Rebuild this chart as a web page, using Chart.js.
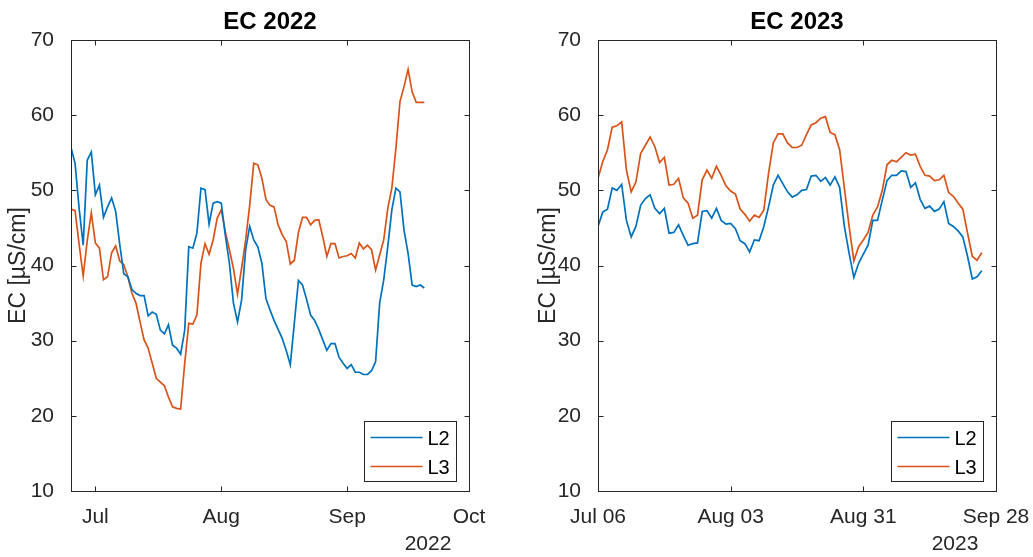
<!DOCTYPE html>
<html>
<head>
<meta charset="utf-8">
<script src="https://cdn.jsdelivr.net/npm/chart.js@4.4.0/dist/chart.umd.min.js"></script>
<style>
  html, body { margin: 0; padding: 0; background: #fff; }
  #wrap { position: relative; width: 1033px; height: 557px; overflow: hidden; }
  canvas { position: absolute; top: 0; }
  #c2022 { left: 0; }
  #c2023 { left: 520px; }
</style>
</head>
<body>
<div id="wrap">
  <canvas id="c2022" width="520" height="557"></canvas>
  <canvas id="c2023" width="513" height="557"></canvas>
</div>
<script>
// EC at two loggers, daily values

const seriesNames = ['L2', 'L3'];
const seriesColors = ['#0072BD', '#D95319'];

// 2022: x is day offset from Jul 1, 2022 (first value is Jun 25)
const start2022 = -6;
const l2_2022 = [
  55.7, 53.6, 47.6, 42.7, 54.0, 55.1, 49.4, 50.7, 46.4, 47.8,
  49.0, 47.2, 42.8, 38.9, 38.5, 36.8, 36.3, 36.0, 36.0, 33.3,
  33.8, 33.5, 31.4, 30.9, 32.1, 29.4, 29.0, 28.2, 31.4, 42.5,
  42.3, 44.3, 50.3, 50.1, 45.5, 48.3, 48.5, 48.3, 44.0, 40.3,
  35.0, 32.5, 35.4, 42.1, 45.2, 43.4, 42.5, 40.3, 35.6, 34.1,
  32.7, 31.5, 30.3, 28.7, 26.8, 32.4, 38.0, 37.4, 35.5, 33.4,
  32.7, 31.5, 30.1, 28.7, 29.6, 29.6, 27.8, 27.0, 26.3, 26.8,
  25.8, 25.8, 25.5, 25.5, 26.0, 27.2, 35.0, 38.1, 42.5, 47.4,
  50.3, 49.8, 44.7, 41.6, 37.4, 37.2, 37.4, 37.0
];
const l3_2022 = [
  47.5, 47.3, 42.8, 38.6, 43.3, 47.0, 43.0, 42.3, 38.1, 38.5,
  41.7, 42.6, 40.6, 40.1, 38.5, 36.3, 35.0, 32.5, 30.1, 29.0,
  27.0, 25.0, 24.5, 24.0, 22.5, 21.2, 21.0, 20.9, 27.0, 32.3,
  32.2, 33.4, 40.3, 42.9, 41.5, 43.4, 46.3, 47.4, 44.5, 42.1,
  39.6, 36.2, 39.6, 43.4, 48.0, 53.6, 53.4, 51.6, 48.8, 48.0,
  47.8, 45.4, 44.1, 43.2, 40.2, 40.7, 44.4, 46.4, 46.4, 45.4,
  46.0, 46.1, 43.8, 41.2, 42.9, 42.9, 41.0, 41.2, 41.3, 41.6,
  41.0, 43.0, 42.2, 42.7, 42.1, 39.4, 41.4, 43.4, 47.6, 50.3,
  55.6, 61.8, 63.8, 66.1, 63.1, 61.7, 61.7, 61.7
];
const xRange2022 = [-6, 92];
const xTicks2022 = [0, 31, 62, 92];
const xLabels2022 = ['Jul', 'Aug', 'Sep', 'Oct'];

// 2023: x is day offset from Jul 06, 2023
const start2023 = 0;
const l2_2023 = [
  45.2, 47.1, 47.5, 50.3, 50.0, 50.8, 46.0, 43.8, 45.2, 48.0,
  48.9, 49.4, 47.6, 46.9, 47.6, 44.3, 44.4, 45.4, 44.0, 42.7,
  42.9, 43.0, 47.2, 47.3, 46.3, 47.6, 46.0, 45.5, 45.6, 44.9,
  43.3, 42.9, 41.8, 43.4, 43.3, 45.2, 47.8, 50.7, 52.0, 50.9,
  49.8, 49.1, 49.4, 50.0, 50.1, 51.9, 52.0, 51.2, 51.7, 50.7,
  51.8, 50.4, 45.2, 41.6, 38.4, 40.3, 41.5, 42.7, 46.0, 46.0,
  48.7, 51.3, 52.0, 52.0, 52.6, 52.5, 50.4, 51.0, 48.8, 47.6,
  47.9, 47.2, 47.5, 48.5, 45.6, 45.2, 44.6, 43.8, 41.2, 38.2,
  38.5, 39.3
];
const l3_2023 = [
  51.6, 53.8, 55.4, 58.4, 58.6, 59.1, 52.7, 49.8, 51.1, 54.9,
  56.0, 57.1, 55.8, 53.7, 54.4, 50.7, 50.8, 51.6, 49.0, 48.3,
  46.3, 46.7, 51.4, 52.7, 51.6, 53.2, 52.0, 50.6, 49.9, 49.5,
  47.5, 46.8, 45.9, 46.7, 46.4, 47.4, 52.3, 56.3, 57.5, 57.5,
  56.3, 55.7, 55.7, 56.0, 57.4, 58.7, 59.0, 59.6, 59.8, 57.7,
  57.4, 55.4, 50.3, 45.2, 40.6, 42.5, 43.4, 44.4, 46.7, 47.8,
  50.0, 53.4, 54.0, 53.8, 54.4, 55.0, 54.7, 54.8, 53.2, 52.0,
  51.9, 51.3, 51.4, 52.0, 49.7, 49.2, 48.3, 47.5, 44.3, 41.2,
  40.7, 41.7
];
const xRange2023 = [0, 84];
const xTicks2023 = [0, 28, 56, 84];
const xLabels2023 = ['Jul 06', 'Aug 03', 'Aug 31', 'Sep 28'];

const yRange = [10, 70];
const yLabel = 'EC [µS/cm]';

const FONT = "'Liberation Sans', Arial, sans-serif";
const AXIS_COLOR = '#262626';
const TICK_LEN = 5;

// MATLAB look: title over the axes, boxed axes, inward ticks on all sides,
// boxed legend in the lower right, year under the last tick
const matlabAxes = {
  id: 'matlabAxes',
  afterDatasetsDraw(chart, args, opts) {
    const { ctx, chartArea: a, scales } = chart;
    const L = Math.round(a.left) + 0.5, R = Math.round(a.right) + 0.5;
    const T = Math.round(a.top) + 0.5, B = Math.round(a.bottom) + 0.5;
    ctx.save();
    ctx.strokeStyle = AXIS_COLOR;
    ctx.lineWidth = 1;
    ctx.beginPath();
    scales.x.ticks.forEach((t) => {
      const px = Math.round(scales.x.getPixelForValue(t.value)) + 0.5;
      ctx.moveTo(px, B); ctx.lineTo(px, B - TICK_LEN);
      ctx.moveTo(px, T); ctx.lineTo(px, T + TICK_LEN);
    });
    scales.y.ticks.forEach((t) => {
      const py = Math.round(scales.y.getPixelForValue(t.value)) + 0.5;
      ctx.moveTo(L, py); ctx.lineTo(L + TICK_LEN, py);
      ctx.moveTo(R, py); ctx.lineTo(R - TICK_LEN, py);
    });
    ctx.stroke();
    ctx.strokeRect(L, T, R - L, B - T);

    // title
    ctx.fillStyle = '#000';
    ctx.font = 'bold 24px ' + FONT;
    ctx.textAlign = 'center';
    ctx.textBaseline = 'middle';
    ctx.fillText(opts.title, (a.left + a.right) / 2, 22);

    // year label
    ctx.fillStyle = AXIS_COLOR;
    ctx.font = '21px ' + FONT;
    ctx.fillText(opts.year, a.right - 41, 544);

    // legend
    const bx = Math.round(a.right) - 105 + 0.5, by = Math.round(a.bottom) - 70 + 0.5;
    ctx.fillStyle = '#fff';
    ctx.fillRect(bx, by, 92, 60);
    ctx.strokeStyle = AXIS_COLOR;
    ctx.strokeRect(bx, by, 92, 60);
    ctx.font = '20px ' + FONT;
    ctx.textAlign = 'left';
    chart.data.datasets.forEach((ds, i) => {
      const ly = by + 16 + i * 29;
      ctx.strokeStyle = ds.borderColor;
      ctx.lineWidth = 1.7;
      ctx.beginPath();
      ctx.moveTo(bx + 6, ly);
      ctx.lineTo(bx + 58, ly);
      ctx.stroke();
      ctx.fillStyle = '#000';
      ctx.fillText(ds.label, bx + 63, ly + 2);
    });
    ctx.restore();
  }
};

function makeChart(id, title, year, start, series, xRange, tickVals, tickLabels, box) {
  const datasets = series.map((vals, i) => ({
    label: seriesNames[i],
    data: vals.map((v, k) => ({ x: start + k, y: v })),
    borderColor: seriesColors[i],
    borderWidth: 1.7,
    pointRadius: 0,
    tension: 0,
    fill: false,
  }));

  return new Chart(document.getElementById(id), {
    type: 'line',
    data: { datasets },
    plugins: [matlabAxes],
    options: {
      responsive: false,
      animation: false,
      events: [],
      layout: { padding: { left: 0, right: box.right, top: 40, bottom: 0 } },
      plugins: {
        legend: { display: false },
        tooltip: { enabled: false },
        title: { display: false },
        matlabAxes: { title, year },
      },
      scales: {
        x: {
          type: 'linear',
          min: xRange[0],
          max: xRange[1],
          grid: { display: false },
          border: { display: false },
          afterBuildTicks: (scale) => {
            scale.ticks = tickVals.map((v) => ({ value: v }));
          },
          afterFit: (scale) => {
            scale.height = 66;
            scale.paddingLeft = 0;
            scale.paddingRight = 0;
          },
          ticks: {
            autoSkip: false,
            maxRotation: 0,
            padding: 6,
            color: AXIS_COLOR,
            font: { family: FONT, size: 21 },
            callback: (value, index) => tickLabels[index],
          },
        },
        y: {
          min: yRange[0],
          max: yRange[1],
          grid: { display: false },
          border: { display: false },
          afterFit: (scale) => {
            scale.width = box.left;
            scale.paddingTop = 0;
            scale.paddingBottom = 0;
          },
          ticks: {
            stepSize: 10,
            padding: 9,
            color: AXIS_COLOR,
            font: { family: FONT, size: 21 },
          },
          title: {
            display: true,
            text: yLabel,
            color: AXIS_COLOR,
            font: { family: FONT, size: 23 },
            padding: { top: box.titlePad, bottom: 0 },
          },
        },
      },
    },
  });
}

makeChart('c2022', 'EC 2022', '2022', start2022, [l2_2022, l3_2022],
  xRange2022, xTicks2022, xLabels2022, { left: 71, right: 51, titlePad: 5 });
makeChart('c2023', 'EC 2023', '2023', start2023, [l2_2023, l3_2023],
  xRange2023, xTicks2023, xLabels2023, { left: 78, right: 37, titlePad: 15 });
</script>
</body>
</html>
